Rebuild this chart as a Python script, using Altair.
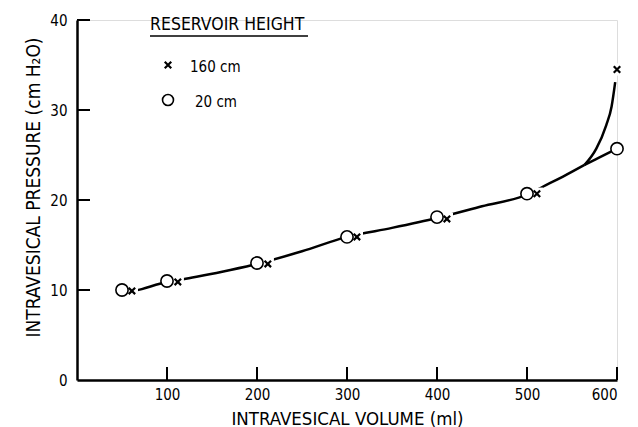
import altair as alt
import pandas as pd

FONT = "'DejaVu Sans Condensed', 'DejaVu Sans', sans-serif"

# Measured points (volume ml, pressure cm H2O)
vol_20 = [50, 100, 200, 300, 400, 500, 600]
p_20 = [10.0, 11.0, 13.0, 15.9, 18.1, 20.7, 25.7]
vol_160 = [61, 112, 212, 311, 411, 511, 600]
p_160 = [9.9, 10.9, 12.9, 15.9, 17.9, 20.7, 34.5]

# Hand-drawn curves
trunk_vol = [66, 72, 92, 118, 160, 196, 250, 300, 350, 400, 450, 500, 518, 540, 564]
trunk_p = [9.95, 10.1, 10.7, 11.2, 12.0, 12.8, 14.3, 15.9, 16.9, 18.0, 19.3, 20.6, 21.5, 22.6, 23.9]
b160_vol = [564, 577, 588, 594, 598]
b160_p = [23.9, 25.7, 28.3, 30.4, 33.1]
b20_vol = [564, 580, 600]
b20_p = [23.9, 24.7, 25.7]

x_ticks = [100, 200, 300, 400, 500, 600]
y_ticks = [0, 10, 20, 30, 40]

legend_title = "RESERVOIR HEIGHT"
legend_labels = ["160 cm", "20 cm"]
x_title = "INTRAVESICAL VOLUME (ml)"
y_title = "INTRAVESICAL PRESSURE (cm H\u2082O)"

curves = pd.concat([
    pd.DataFrame({"v": trunk_vol, "p": trunk_p, "seg": "trunk"}),
    pd.DataFrame({"v": b160_vol, "p": b160_p, "seg": "b160"}),
    pd.DataFrame({"v": b20_vol, "p": b20_p, "seg": "b20"}),
], ignore_index=True)
curves["o"] = range(len(curves))
d20 = pd.DataFrame({"v": vol_20, "p": p_20})
d160 = pd.DataFrame({"v": vol_160, "p": p_160})

xs = alt.Scale(domain=[0, 600], nice=False, zero=False)
ys = alt.Scale(domain=[0, 40], nice=False)

X = alt.X("v:Q", scale=xs, axis=alt.Axis(
    values=x_ticks, ticks=False, grid=False, domainWidth=2.5, domainColor="black",
    labelFont=FONT, labelFontSize=15, labelColor="black", labelPadding=7,
    title=x_title, titleFont=FONT, titleFontSize=18.5, titleFontWeight="normal",
    titleColor="black", titleX=270, titleY=44, titleBaseline="alphabetic"))
Y = alt.Y("p:Q", scale=ys, axis=alt.Axis(
    values=y_ticks, ticks=False, grid=False, domainWidth=2.5, domainColor="black",
    labelFont=FONT, labelFontSize=15, labelColor="black", labelPadding=10,
    title=y_title, titleFont=FONT, titleFontSize=19, titleFontWeight="normal",
    titleColor="black", titleX=-38, titleY=167, titleBaseline="alphabetic"))

xpath = "M-1,-1L1,1M1,-1L-1,1"

lines = alt.Chart(curves).mark_line(color="black", strokeWidth=2.5, interpolate="monotone").encode(
    x=X, y=Y, detail="seg:N", order="o:Q")

backdrop = alt.Chart(d160).mark_point(shape="square", filled=True, color="white", opacity=1, size=150).encode(
    x=alt.X("v:Q", scale=xs), y=alt.Y("p:Q", scale=ys))

circles = alt.Chart(d20).mark_point(shape="circle", filled=True, fill="white", stroke="black",
                                     strokeWidth=1.6, opacity=1, size=150).encode(
    x=alt.X("v:Q", scale=xs), y=alt.Y("p:Q", scale=ys))

crosses = alt.Chart(d160).mark_point(shape=xpath, filled=False, stroke="black", strokeWidth=2.2,
                                      opacity=1, size=42).encode(
    x=alt.X("v:Q", scale=xs), y=alt.Y("p:Q", scale=ys))

xt = alt.Chart(pd.DataFrame({"t": x_ticks})).mark_rule(color="black", strokeWidth=2).encode(
    x=alt.X("t:Q", scale=xs), y=alt.value(360), y2=alt.value(347))
yt = alt.Chart(pd.DataFrame({"t": y_ticks[1:]})).mark_rule(color="black", strokeWidth=2).encode(
    y=alt.Y("t:Q", scale=ys), x=alt.value(0), x2=alt.value(13))

leg_df = pd.DataFrame({"t": [legend_title]})
leg_title = alt.Chart(leg_df).mark_text(font=FONT, fontSize=17.5, align="left", baseline="alphabetic",
                                        color="black").encode(
    text="t:N", x=alt.value(73), y=alt.value(10))
leg_line = alt.Chart(leg_df).mark_rule(color="black", strokeWidth=1.5).encode(
    x=alt.value(73), x2=alt.value(231), y=alt.value(16))
leg_txt = alt.Chart(pd.DataFrame({"lab": legend_labels, "ypos": [52, 87], "xpos": [113, 118]})).mark_text(
    font=FONT, fontSize=15, align="left", baseline="alphabetic", color="black").encode(
    text="lab:N", x=alt.X("xpos:Q", scale=None), y=alt.Y("ypos:Q", scale=None))
leg_x = alt.Chart(leg_df).mark_point(shape=xpath, filled=False, stroke="black", strokeWidth=2.2,
                                     opacity=1, size=42).encode(x=alt.value(91), y=alt.value(45))
leg_o = alt.Chart(leg_df).mark_point(shape="circle", filled=False, stroke="black", strokeWidth=1.6,
                                     opacity=1, size=120).encode(x=alt.value(91), y=alt.value(80))

chart = alt.layer(lines, backdrop, circles, crosses, xt, yt,
                  leg_title, leg_line, leg_txt, leg_x, leg_o).properties(
    width=540, height=360,
    autosize=alt.AutoSizeParams(type="none"),
    padding={"left": 69, "top": 12, "right": 13, "bottom": 47},
).configure_view(stroke=None).configure(background="white")

chart.save("out.html", embed_options={"renderer": "svg", "actions": False})
